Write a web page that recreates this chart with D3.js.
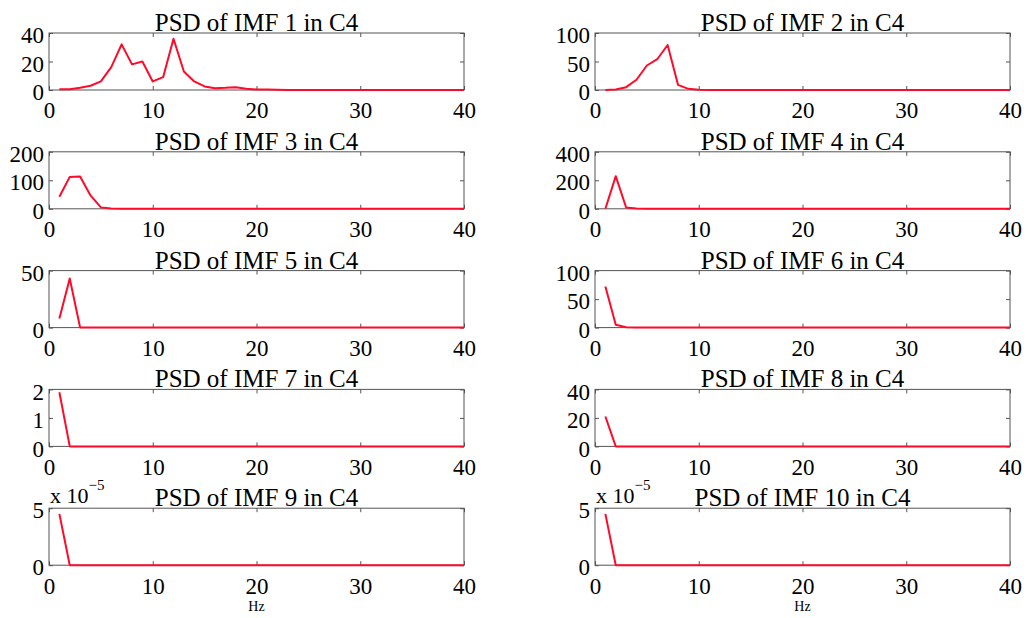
<!DOCTYPE html>
<html>
<head>
<meta charset="utf-8">
<script src="https://cdn.jsdelivr.net/npm/d3@7"></script>
<style>
    body { margin: 0; background: #fff; }
    svg { display: block; }
    text { font-family: "Liberation Serif", "Times New Roman", serif; fill: #000; }
</style>
</head>
<body>
<svg id="chart" width="1028" height="618"></svg>
<script>
// frequency bins (Hz)
const hz = [1,2,3,4,5,6,7,8,9,10,11,12,13,14,15,16,17,18,19,20,21,22,23,24,25,26,27,28,29,30,31,32,33,34,35,36,37,38,39,40];

const imf1  = [0.5,0.5,1.6,3,6,16,32,18,20,6,9,36,13,6,2.5,1.2,1.5,2,0.8,0.4,0.3,0.1,0,0,0,0,0,0,0,0,0,0,0,0,0,0,0,0,0,0];
const imf2  = [0,1,5,18,43,54,79,9,2,0.5,0,0,0,0,0,0,0,0,0,0,0,0,0,0,0,0,0,0,0,0,0,0,0,0,0,0,0,0,0,0];
const imf3  = [42,112,113,47,5,1,0,0,0,0,0,0,0,0,0,0,0,0,0,0,0,0,0,0,0,0,0,0,0,0,0,0,0,0,0,0,0,0,0,0];
const imf4  = [0,229,9,2,0,0,0,0,0,0,0,0,0,0,0,0,0,0,0,0,0,0,0,0,0,0,0,0,0,0,0,0,0,0,0,0,0,0,0,0];
const imf5  = [8,43,0,0,0,0,0,0,0,0,0,0,0,0,0,0,0,0,0,0,0,0,0,0,0,0,0,0,0,0,0,0,0,0,0,0,0,0,0,0];
const imf6  = [72,5,0.5,0,0,0,0,0,0,0,0,0,0,0,0,0,0,0,0,0,0,0,0,0,0,0,0,0,0,0,0,0,0,0,0,0,0,0,0,0];
const imf7  = [1.9,0,0,0,0,0,0,0,0,0,0,0,0,0,0,0,0,0,0,0,0,0,0,0,0,0,0,0,0,0,0,0,0,0,0,0,0,0,0,0];
const imf8  = [21,0,0,0,0,0,0,0,0,0,0,0,0,0,0,0,0,0,0,0,0,0,0,0,0,0,0,0,0,0,0,0,0,0,0,0,0,0,0,0];
const imf9  = [4.5e-5,0,0,0,0,0,0,0,0,0,0,0,0,0,0,0,0,0,0,0,0,0,0,0,0,0,0,0,0,0,0,0,0,0,0,0,0,0,0,0];
const imf10 = [4.5e-5,0,0,0,0,0,0,0,0,0,0,0,0,0,0,0,0,0,0,0,0,0,0,0,0,0,0,0,0,0,0,0,0,0,0,0,0,0,0,0];

const series = [imf1, imf2, imf3, imf4, imf5, imf6, imf7, imf8, imf9, imf10];
const titles = ['PSD of IMF 1 in C4', 'PSD of IMF 2 in C4', 'PSD of IMF 3 in C4', 'PSD of IMF 4 in C4',
                'PSD of IMF 5 in C4', 'PSD of IMF 6 in C4', 'PSD of IMF 7 in C4', 'PSD of IMF 8 in C4',
                'PSD of IMF 9 in C4', 'PSD of IMF 10 in C4'];
const yMax   = [40, 100, 200, 400, 50, 100, 2, 40, 5e-5, 5e-5];
const yTicks = [[0,20,40], [0,50,100], [0,100,200], [0,200,400], [0,50], [0,50,100], [0,1,2], [0,20,40], [0,5e-5], [0,5e-5]];
const yExp   = [0, 0, 0, 0, 0, 0, 0, 0, -5, -5];
const xTicks = [0, 10, 20, 30, 40];

const colLeft = [49, 595],
      plotW   = 415,
      plotH   = 57,
      top0    = 33,
      rowStep = 118.8;

const svg = d3.select('#chart');

series.forEach((values, i) => {
    const col = i % 2, row = Math.floor(i / 2);
    const g = svg.append('g')
        .attr('transform', `translate(${colLeft[col]}, ${top0 + row * rowStep})`);

    const x = d3.scaleLinear().domain([0, 40]).range([0, plotW]);
    const y = d3.scaleLinear().domain([0, yMax[i]]).range([plotH, 0]);
    const k = Math.pow(10, -yExp[i]);

    // axes: ticks pointing inward, MATLAB style
    const axB = g.append('g').attr('transform', `translate(0, ${plotH})`)
        .call(d3.axisBottom(x).tickValues(xTicks).tickSizeInner(-4).tickSizeOuter(0).tickPadding(12));
    const axL = g.append('g')
        .call(d3.axisLeft(y).tickValues(yTicks[i]).tickFormat(d => d3.format('d')(Math.round(d * k)))
            .tickSizeInner(-4).tickSizeOuter(0).tickPadding(5));
    g.append('g').call(d3.axisTop(x).tickValues(xTicks).tickSizeInner(-4).tickSizeOuter(0).tickFormat(''));
    g.append('g').attr('transform', `translate(${plotW}, 0)`)
        .call(d3.axisRight(y).tickValues(yTicks[i]).tickSizeInner(-4).tickSizeOuter(0).tickFormat(''));

    g.selectAll('.domain').remove();
    g.selectAll('.tick line').attr('stroke', '#555');
    axB.selectAll('text').style('font-size', '23px').style('font-family', '"Liberation Serif", serif');
    axL.selectAll('text').style('font-size', '23px').style('font-family', '"Liberation Serif", serif')
        .attr('dy', '0.42em');

    g.append('rect')
        .attr('width', plotW).attr('height', plotH)
        .attr('fill', 'none').attr('stroke', '#555').attr('stroke-width', 1);

    g.append('path')
        .datum(values)
        .attr('fill', 'none')
        .attr('stroke', '#ff0a2a')
        .attr('stroke-width', 2)
        .attr('stroke-linejoin', 'round')
        .attr('d', d3.line().x((d, n) => x(hz[n])).y(d => y(d)));

    g.append('text')
        .attr('x', plotW / 2).attr('y', -2)
        .attr('text-anchor', 'middle')
        .style('font-size', '25px')
        .text(titles[i]);

    if (yExp[i] !== 0) {
        const t = g.append('text').attr('x', 1).attr('y', -5).style('font-size', '22px');
        t.append('tspan').text('x 10');
        t.append('tspan').attr('dy', -13).style('font-size', '15px').text('\u2212' + (-yExp[i]));
    }

    if (row === 4) {
        g.append('text')
            .attr('x', plotW / 2).attr('y', plotH + 46)
            .attr('text-anchor', 'middle')
            .style('font-size', '14px')
            .text('Hz');
    }
});
</script>
</body>
</html>
